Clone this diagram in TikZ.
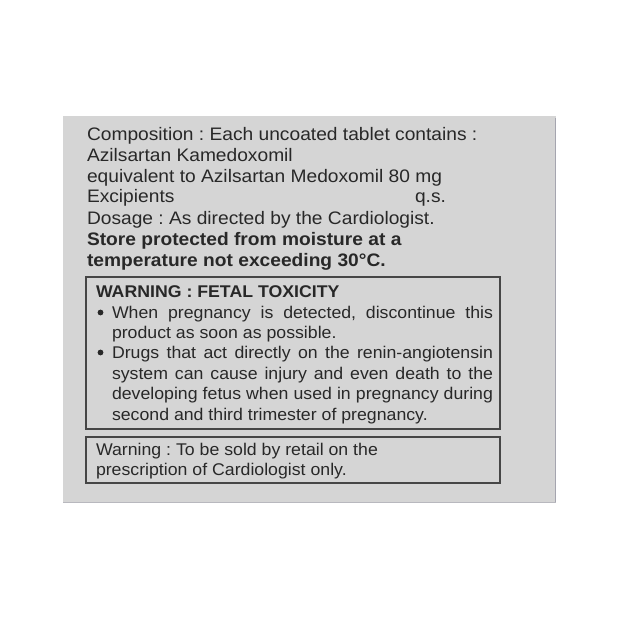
\documentclass[tikz,border=0pt]{standalone}
\usepackage{fontspec}
\setmainfont{Liberation Sans}
\newfontfamily\topfont[FakeStretch=1.06]{Liberation Sans}
\newfontfamily\boxfont[FakeStretch=1.045]{Liberation Sans}
\definecolor{panel}{RGB}{213,213,213}
\definecolor{ink}{RGB}{40,40,40}
\definecolor{rulec}{RGB}{70,70,70}
\definecolor{edgec}{RGB}{165,165,175}
\frenchspacing
\begin{document}
\begin{tikzpicture}[x=1pt,y=-1pt,
  txt/.style={anchor=base west,inner sep=0pt,outer sep=0pt,text=ink},
  toptxt/.style={txt,font=\topfont\fontsize{18.1}{20}\selectfont\frenchspacing},
  boxtxt/.style={txt,font=\boxfont\fontsize{16.95}{20}\selectfont\frenchspacing},
  frame/.style={draw=rulec,line width=1.4pt},
  bul/.style={circle,fill=ink,inner sep=0pt,minimum size=5.8pt}]
\useasboundingbox (0,0) rectangle (620,620);
\fill[white] (0,0) rectangle (620,620);
% panel
\fill[panel] (63,116) rectangle (556,503);
\draw[edgec,line width=1pt] (555.5,118) -- (555.5,503);
\draw[edgec!60!panel,line width=0.8pt] (63,502.6) -- (556,502.6);
% composition block
\node[toptxt] (l1) at (87,141) {Composition : Each uncoated tablet contains :};
\node[toptxt] (l2) at (87,162) {Azilsartan Kamedoxomil};
\node[toptxt] (l3) at (87,183) {equivalent to Azilsartan Medoxomil 80 mg};
\node[toptxt] (l4) at (87,203) {Excipients};
\node[toptxt] (l4b) at (415,203) {q.s.};
\node[toptxt] (l5) at (87,224) {Dosage : As directed by the Cardiologist.};
\node[toptxt,font=\topfont\bfseries\fontsize{18.1}{20}\selectfont] (l6) at (87,245) {Store protected from moisture at a};
\node[toptxt,font=\topfont\bfseries\fontsize{18.1}{20}\selectfont] (l7) at (87,266) {temperature not exceeding 30°C.};
% warning box
\draw[frame] (86,277) rectangle (500,429);
\node[boxtxt,font=\boxfont\bfseries\fontsize{16.95}{20}\selectfont] (wh) at (96,297) {WARNING : FETAL TOXICITY};
\node[bul] (b1) at (100.5,312.5) {};
\node[boxtxt] (w1) at (112,318) {\makebox[381pt][s]{When pregnancy is detected, discontinue this}};
\node[boxtxt] (w2) at (112,338) {product as soon as possible.};
\node[bul] (b2) at (100.5,352.5) {};
\node[boxtxt] (w3) at (112,358) {\makebox[381pt][s]{Drugs that act directly on the renin-angiotensin}};
\node[boxtxt] (w4) at (112,379) {\makebox[381pt][s]{system can cause injury and even death to the}};
\node[boxtxt] (w5) at (112,399) {\makebox[381pt][s]{developing fetus when used in pregnancy during}};
\node[boxtxt] (w6) at (112,420) {second and third trimester of pregnancy.};
% retail box
\draw[frame] (86,437) rectangle (500,483);
\node[boxtxt] (r1) at (96,455) {Warning : To be sold by retail on the};
\node[boxtxt] (r2) at (96,475) {prescription of Cardiologist only.};
\end{tikzpicture}
\end{document}
